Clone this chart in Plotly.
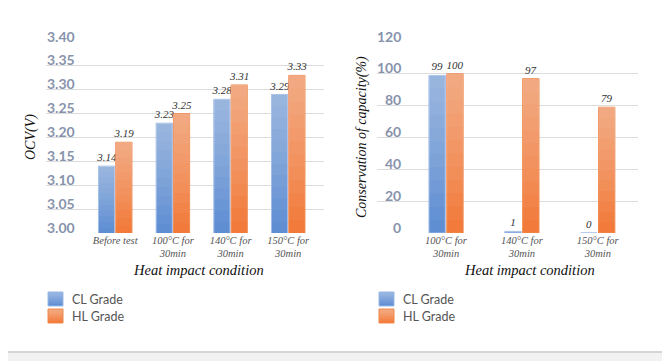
import plotly.graph_objects as go

# The page body has an 8px default margin, so the figure is drawn 8px in from
# the top-left corner of the window; page coordinates are converted below.
OX, OY = 8, 8
W, H = 662, 353

# ---- data ----
ocv_categories = ["Before test", "100°C for<br>30min", "140°C for<br>30min", "150°C for<br>30min"]
ocv_cl = [3.14, 3.23, 3.28, 3.29]
ocv_hl = [3.19, 3.25, 3.31, 3.33]
ocv_ticks = [3.00, 3.05, 3.10, 3.15, 3.20, 3.25, 3.30, 3.35, 3.40]

cap_categories = ["100°C for<br>30min", "140°C for<br>30min", "150°C for<br>30min"]
cap_cl = [99, 1, 0]
cap_hl = [100, 97, 79]
cap_ticks = [0, 20, 40, 60, 80, 100, 120]

series_names = ["CL Grade", "HL Grade"]

# ---- style ----
BLUE = "#5f8ed3"
BLUE_LINE = "#9fbbe8"
ORANGE = "#f27a3a"
ORANGE_LINE = "#f08a4e"
SERIF = "Liberation Serif"
SANS = "Lato"
TICK_COLOR = "#8893ac"
STEPS = 12          # layers of the vertical light-to-dark shading
STEP_ALPHA = 0.042  # white added by each layer (about 0.4 at the top)


def px(x):
    return (x - OX) / W


def py(y):
    return 1 - (y - OY) / H


fig = go.Figure()

label_font = dict(family=SERIF, size=11, color="#333333", style="italic")


def add_bars(cats, vals, floor, name, color, line, width, offset, fmt, xa, ya):
    fig.add_trace(go.Bar(x=cats, y=vals, name=name,
                         marker=dict(color=color, line=dict(color=line, width=1)),
                         width=width, offset=offset,
                         text=[fmt(v) for v in vals], textposition="outside",
                         constraintext="none",
                         textfont=label_font, cliponaxis=False,
                         xaxis=xa, yaxis=ya, showlegend=False))
    # shading: translucent white layers, each starting a little higher up the bar
    for k in range(1, STEPS):
        bases = [floor + (v - floor) * k / STEPS for v in vals]
        heights = [(v - floor) * (1 - k / STEPS) for v in vals]
        fig.add_trace(go.Bar(x=cats, y=heights, base=bases, name=name,
                             marker=dict(color=f"rgba(255,255,255,{STEP_ALPHA})", line=dict(width=0)),
                             width=width, offset=offset, hoverinfo="skip",
                             xaxis=xa, yaxis=ya, showlegend=False))


add_bars(ocv_categories, ocv_cl, ocv_ticks[0], series_names[0], BLUE, BLUE_LINE, 0.28, -0.29, lambda v: f"{v:.2f}", "x", "y")
add_bars(ocv_categories, ocv_hl, ocv_ticks[0], series_names[1], ORANGE, ORANGE_LINE, 0.28, 0.01, lambda v: f"{v:.2f}", "x", "y")
add_bars(cap_categories, cap_cl, cap_ticks[0], series_names[0], BLUE, BLUE_LINE, 0.215, -0.225, str, "x2", "y2")
add_bars(cap_categories, cap_hl, cap_ticks[0], series_names[1], ORANGE, ORANGE_LINE, 0.215, 0.01, str, "x2", "y2")

ydom = [py(233), py(42)]
xtick_font = dict(family=SERIF, size=10.5, color="#555555", style="italic")

fig.update_layout(
    width=W, height=H,
    margin=dict(l=0, r=0, t=0, b=0),
    paper_bgcolor="white", plot_bgcolor="white",
    barmode="overlay",
    xaxis=dict(domain=[px(46), px(324)], range=[-1.2, 3.62], type="category",
               showgrid=False, showline=False, zeroline=False, ticks="",
               tickfont=xtick_font, anchor="y", ticklabelstandoff=-1),
    yaxis=dict(domain=ydom, range=[3.0, 3.4], showticklabels=False,
               showgrid=True, gridcolor="#dcdcdc", gridwidth=1, zeroline=False,
               tickvals=ocv_ticks, anchor="x"),
    xaxis2=dict(domain=[px(377), px(638)], range=[-0.91, 2.53], type="category",
                showgrid=False, showline=False, zeroline=False, ticks="",
                tickfont=xtick_font, anchor="y2", ticklabelstandoff=-1),
    yaxis2=dict(domain=ydom, range=[0, 120], showticklabels=False,
                showgrid=True, gridcolor="#dcdcdc", gridwidth=1, zeroline=False,
                tickvals=cap_ticks, anchor="x2"),
    showlegend=False,
)

annotations = []
tick_font = dict(family=SANS, size=14, color=TICK_COLOR, weight="bold")
for t in ocv_ticks:
    annotations.append(dict(x=px(77), xref="paper", xanchor="right", y=t, yref="y",
                            yanchor="middle", yshift=6, text=f"{t:.2f}", showarrow=False,
                            font=tick_font))
for t in cap_ticks:
    annotations.append(dict(x=px(403), xref="paper", xanchor="right", y=t, yref="y2",
                            yanchor="middle", yshift=6, text=str(t), showarrow=False,
                            font=tick_font))
title_font = dict(family=SERIF, size=14.5, color="#111111", style="italic")
annotations.append(dict(x=px(198), y=py(270), xref="paper", yref="paper", text="Heat impact condition",
                        showarrow=False, font=title_font, xanchor="center", yanchor="middle"))
annotations.append(dict(x=px(529), y=py(270), xref="paper", yref="paper", text="Heat impact condition",
                        showarrow=False, font=title_font, xanchor="center", yanchor="middle"))
ytitle_font = dict(family=SERIF, size=14, color="#111111", style="italic")
annotations.append(dict(x=px(31), y=py(137), xref="paper", yref="paper", text="OCV(V)", textangle=-90,
                        showarrow=False, font=ytitle_font, xanchor="center", yanchor="middle"))
annotations.append(dict(x=px(362), y=py(137), xref="paper", yref="paper", text="Conservation of capacity(%)",
                        textangle=-90, showarrow=False, font=ytitle_font,
                        xanchor="center", yanchor="middle"))

shapes = [
    dict(type="rect", xref="paper", yref="paper", x0=0, x1=1, y0=0, y1=py(353),
         fillcolor="#f2f2f2", line=dict(width=0), layer="below"),
    dict(type="line", xref="paper", yref="paper", x0=px(666), x1=px(666), y0=py(352), y1=1,
         line=dict(color="#d0d0d0", width=1.5), layer="below"),
    dict(type="line", xref="paper", yref="paper", x0=0, x1=px(666), y0=py(352), y1=py(352),
         line=dict(color="#c9c9c9", width=1.5), layer="below"),
]

# custom legends
legend_font = dict(family=SANS, size=12.5, color="#555555")
for lx in (48, 379):
    for i, (name, col, ln) in enumerate(zip(series_names, [BLUE, ORANGE], [BLUE_LINE, ORANGE_LINE])):
        cy = 299 + 17 * i
        shapes.append(dict(type="rect", xref="paper", yref="paper",
                           x0=px(lx), x1=px(lx + 15), y0=py(cy + 7), y1=py(cy - 7),
                           fillcolor=col, line=dict(color=ln, width=1)))
        for k in range(1, 7):
            shapes.append(dict(type="rect", xref="paper", yref="paper",
                               x0=px(lx + 0.5), x1=px(lx + 14.5), y0=py(cy + 7 - 14 * k / 7), y1=py(cy - 6.5),
                               fillcolor="rgba(255,255,255,0.075)", line=dict(width=0)))
        annotations.append(dict(x=px(lx + 22), y=py(cy), xref="paper", yref="paper", text=name,
                                showarrow=False, font=legend_font, xanchor="left", yanchor="middle"))

fig.update_layout(annotations=annotations, shapes=shapes)

fig.write_html("out.html")
